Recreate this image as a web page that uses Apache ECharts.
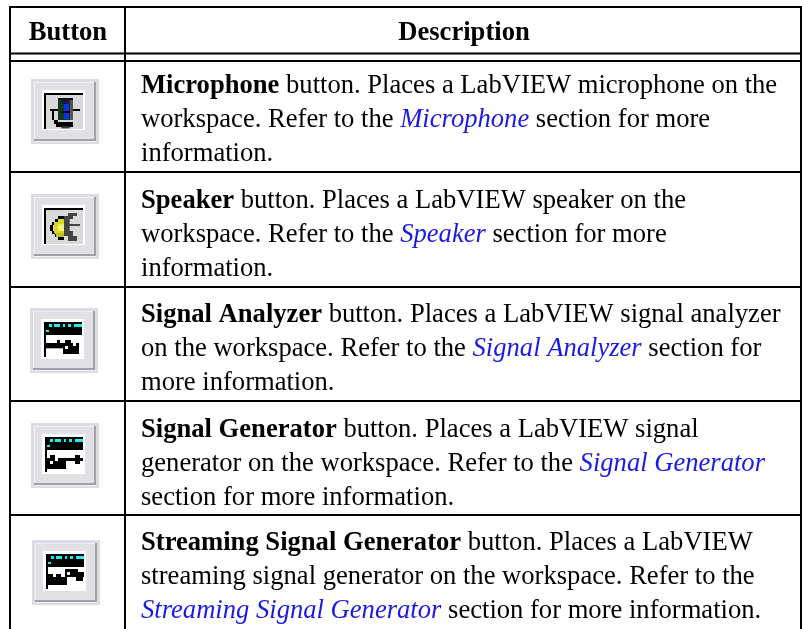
<!DOCTYPE html>
<html><head><meta charset="utf-8">
<style>html,body{margin:0;padding:0;background:#fff}#c{width:802px;height:629px}</style>
<script src="https://cdn.jsdelivr.net/npm/echarts@6/dist/echarts.min.js"></script>
</head><body><div id="c"></div>
<script>
var headers = ['Button', 'Description'];
var buttonNames = ['Microphone', 'Speaker', 'Signal Analyzer', 'Signal Generator', 'Streaming Signal Generator'];
var descriptionLines = [
  ['{b|Microphone} button. Places a LabVIEW microphone on the', 'workspace. Refer to the {i|Microphone} section for more', 'information.'],
  ['{b|Speaker} button. Places a LabVIEW speaker on the', 'workspace. Refer to the {i|Speaker} section for more', 'information.'],
  ['{b|Signal Analyzer} button. Places a LabVIEW signal analyzer', 'on the workspace. Refer to the {i|Signal Analyzer} section for', 'more information.'],
  ['{b|Signal Generator} button. Places a LabVIEW signal', 'generator on the workspace. Refer to the {i|Signal Generator}', 'section for more information.'],
  ['{b|Streaming Signal Generator} button. Places a LabVIEW', 'streaming signal generator on the workspace. Refer to the', '{i|Streaming Signal Generator} section for more information.']
];
var K='#000', C='#19f0f0', W='#fff', D='#444';
var topBand = [[0,0,114,39,K],[15,6,24,15,C],[30,6,48,15,C],[57,6,63,15,C],[72,6,81,15,C],[90,6,114,15,C],[6,24,15,30,C]];
var iconGlyphs = [
  [[66,99,90,105,K],[135,99,156,105,K],[72,105,78,132,K],[78,132,90,144,K],[84,138,135,153,K],[100,150,125,157,'#333'],
   [90,66,135,132,'#0f3d1a'],[126,66,135,132,'#555'],[90,66,135,72,'#111'],[100,72,120,84,'#201050'],[108,84,123,105,'#1030f0'],[100,105,126,111,K],[108,111,123,130,'#1030f0']],
  [[90,75,108,84,K],[81,84,90,93,K],[72,93,81,102,K],[66,102,75,120,K],[72,120,81,129,K],[81,129,90,138,K],[90,138,108,147,K],
   [78,93,108,126,'#d8d820'],[90,84,108,93,'#d8d820'],[84,126,108,138,'#c0c020'],[90,100,108,120,'#f0f080'],
   [120,66,147,75,D],[108,75,135,84,D],[108,84,125,99,D],[108,99,156,105,D],[108,105,125,120,D],[108,120,135,135,D],[120,135,147,150,D]],
  [[51,51,57,156,K],[51,51,165,90,K],[90,105,99,114,K],[114,105,132,114,K],[57,114,108,130,K],[108,114,156,147,K],[114,123,123,132,W],[138,114,147,123,W]],
  [[51,51,57,156,K],[51,51,165,90,K],[66,105,81,114,K],[57,114,114,147,K],[66,123,75,132,W],[81,114,90,123,W],[90,114,165,123,K],[141,105,156,132,K]],
  [[51,51,57,156,K],[51,51,165,84,K],[57,120,114,144,K],[57,111,72,120,K],[81,111,96,120,K],[108,96,132,120,K],[114,105,123,114,W],[132,96,147,105,K],[132,105,165,120,K],[141,120,162,132,K]]
];
var iconBands = [false,false,true,true,true];
var iconBox = [[31,79],[31,194],[30,308],[31,423],[32,540]];
var rowLines = [7, 53.5, 61, 172, 287, 401, 515];
var colLines = [10, 125, 801];
var rowTop = [86,201,315,430,543];
var FONT = '"Liberation Serif","Times New Roman",serif', FS = 26.6;
var g = [];
function rect(x,y,w,h,c){g.push({type:'rect',shape:{x:x,y:y,width:w,height:h},style:{fill:c},silent:true});}
rowLines.forEach(function(y){rect(9,y-1,793,2,K);});
colLines.forEach(function(x){rect(x-1,6,2,623,K);});
var rich = {n:{fontFamily:FONT,fontSize:FS,fill:K},b:{fontFamily:FONT,fontSize:FS,fontWeight:'bold',fill:K},i:{fontFamily:FONT,fontSize:FS,fontStyle:'italic',fill:'#1a1ae6'}};
descriptionLines.forEach(function(lines,r){lines.forEach(function(t,k){
  g.push({type:'text',style:{x:141,y:rowTop[r]+k*33.8,text:t.replace(/(^|\})([^{]+)/g,function(m,a,s){return a+'{n|'+s+'}';}),rich:rich,verticalAlign:'middle',font:FS+'px '+FONT}});
});});
g.push({type:'text',style:{x:68,y:33,text:headers[0],align:'center',verticalAlign:'middle',font:'bold '+FS+'px '+FONT,fill:K}});
g.push({type:'text',style:{x:464,y:33,text:headers[1],align:'center',verticalAlign:'middle',font:'bold '+FS+'px '+FONT,fill:K}});
iconGlyphs.forEach(function(glyph,i){
  var bx=iconBox[i][0], by=iconBox[i][1];
  function z(a,c){var x0=bx+(a[0]-9)/3,y0=by+(a[1]-9)/3;rect(x0,y0,(a[2]-a[0])/3,(a[3]-a[1])/3,c||a[4]);}
  z([9,9,213,204],'#dcdce2');
  z([18,18,204,198],'#f2f2f4');
  z([21,21,198,189],'#e0e0e5');
  z([198,18,204,195],'#a0a0a6');
  z([18,189,204,195],'#a0a0a6');
  z([42,42,171,162],W);
  if(!iconBands[i]){
    z([54,57,165,159],'#d9d9d9');
    z([48,51,54,159],K);
    z([48,51,165,57],K);
  }
  glyph.forEach(function(a){z(a);});
  if(iconBands[i]){
    topBand.forEach(function(a){z([a[0]+51,a[1]+51,a[2]+51,a[3]+51],a[4]);});
  }
});
echarts.init(document.getElementById('c')).setOption({animation:false,graphic:{elements:g}});
</script></body></html>
